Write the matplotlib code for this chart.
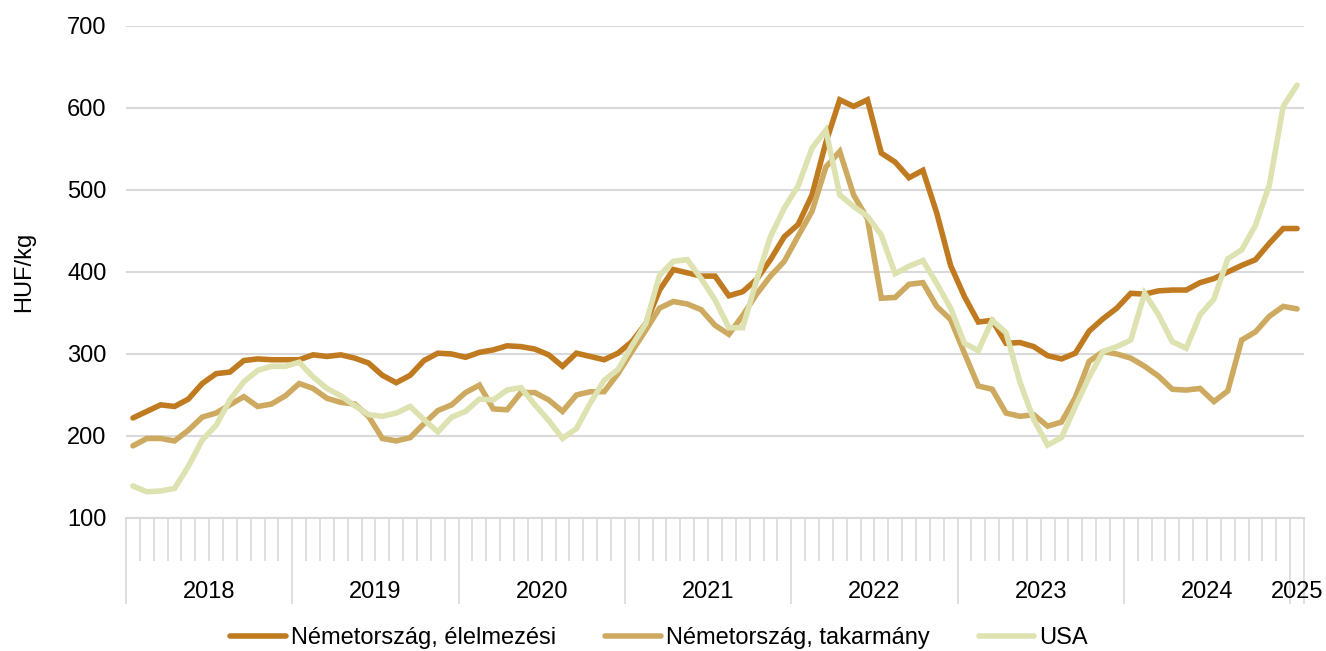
import matplotlib.pyplot as plt
from matplotlib.transforms import blended_transform_factory

plt.rcParams['font.family'] = ['Liberation Sans', 'DejaVu Sans']

# monthly prices, Jan 2018 - Jan 2025 (HUF/kg)
years = ["2018", "2019", "2020", "2021", "2022", "2023", "2024", "2025"]
months_per_year = [12, 12, 12, 12, 12, 12, 12, 1]

de_food = [222, 230, 238, 236, 245, 264, 276, 278, 292, 294, 293, 293,
           293, 299, 297, 299, 295, 289, 274, 265, 274, 292, 301, 300,
           296, 302, 305, 310, 309, 306, 299, 285, 301, 297, 293, 301,
           315, 337, 378, 403, 399, 395, 395, 371, 376, 391, 415, 443,
           458, 494, 558, 610, 602, 610, 545, 534, 515, 524, 472, 408,
           370, 339, 341, 313, 314, 309, 298, 294, 301, 328, 343, 356,
           374, 373, 377, 378, 378, 387, 392, 400, 408, 415, 435, 453,
           453]
de_feed = [188, 197, 197, 194, 207, 223, 228, 238, 248, 236, 239, 249,
           264, 258, 246, 241, 239, 224, 197, 194, 198, 215, 231, 238,
           253, 262, 233, 232, 253, 253, 244, 230, 250, 254, 254, 276,
           303, 329, 356, 364, 361, 354, 335, 324, 347, 373, 395, 413,
           444, 474, 528, 547, 494, 465, 368, 369, 385, 387, 358, 342,
           301, 261, 257, 228, 224, 226, 212, 217, 247, 291, 303, 300,
           295, 285, 273, 257, 256, 258, 242, 255, 317, 327, 346, 358,
           355]
usa = [139, 132, 133, 136, 163, 195, 213, 244, 266, 280, 285, 285,
       290, 272, 258, 249, 237, 226, 224, 228, 236, 220, 205, 223,
       230, 245, 244, 256, 259, 238, 219, 197, 209, 240, 268, 281,
       310, 337, 396, 413, 415, 392, 366, 332, 332, 390, 443, 478,
       505, 551, 573, 494, 480, 468, 445, 398, 407, 414, 386, 356,
       313, 304, 341, 326, 266, 220, 189, 198, 236, 272, 303, 309,
       317, 374, 348, 315, 307, 348, 367, 416, 427, 457, 506, 602,
       628]

labels = ["Németország, élelmezési", "Németország, takarmány", "USA"]
colors = ["#C07A20", "#CDAA60", "#DDE2B0"]

fs = 17
grid_col = "#D9D9D9"

fig = plt.figure(figsize=(13.26, 6.51), dpi=100)
ax = fig.add_axes([126 / 1326, 133 / 651, 1178 / 1326, 492 / 651])

x = list(range(len(de_food)))
for y, lab, c in zip([de_food, de_feed, usa], labels, colors):
    ax.plot(x, y, color=c, lw=4, label=lab, solid_capstyle="round", solid_joinstyle="miter", zorder=3)

ax.set_ylim(100, 700)
ax.set_yticks(range(100, 701, 100))
ax.set_xlim(-0.5, len(x) - 0.5)
ax.grid(axis="y", color=grid_col, lw=1.5, zorder=0)
for s in ["left", "right", "top"]:
    ax.spines[s].set_visible(False)
ax.spines["bottom"].set_color(grid_col)
ax.spines["bottom"].set_linewidth(1.5)
ax.tick_params(axis="y", length=0, pad=14, labelsize=fs)
ax.set_ylabel("HUF/kg", fontsize=fs, labelpad=23)

# month ticks and year separators
n = len(x)
ax.set_xticks([k - 0.5 for k in range(n + 1)], minor=True)
bounds = [-0.5]
for m in months_per_year:
    bounds.append(bounds[-1] + m)
ax.set_xticks(bounds)
ax.set_xticklabels([])
ax.tick_params(axis="x", which="minor", length=31, width=1.2, color=grid_col)
ax.tick_params(axis="x", which="major", length=62, width=1.2, color=grid_col)

trans = blended_transform_factory(ax.transData, ax.transAxes)
for yr, b0, b1 in zip(years, bounds[:-1], bounds[1:]):
    ax.text((b0 + b1) / 2, -0.15, yr, transform=trans, ha="center", va="center", fontsize=fs)

fig.legend(loc="lower center", bbox_to_anchor=(0.497, -0.03), ncol=3, frameon=False,
           fontsize=fs, handlelength=2.35, handletextpad=0.2, columnspacing=2.1)

fig.savefig("out.png", dpi=100)
